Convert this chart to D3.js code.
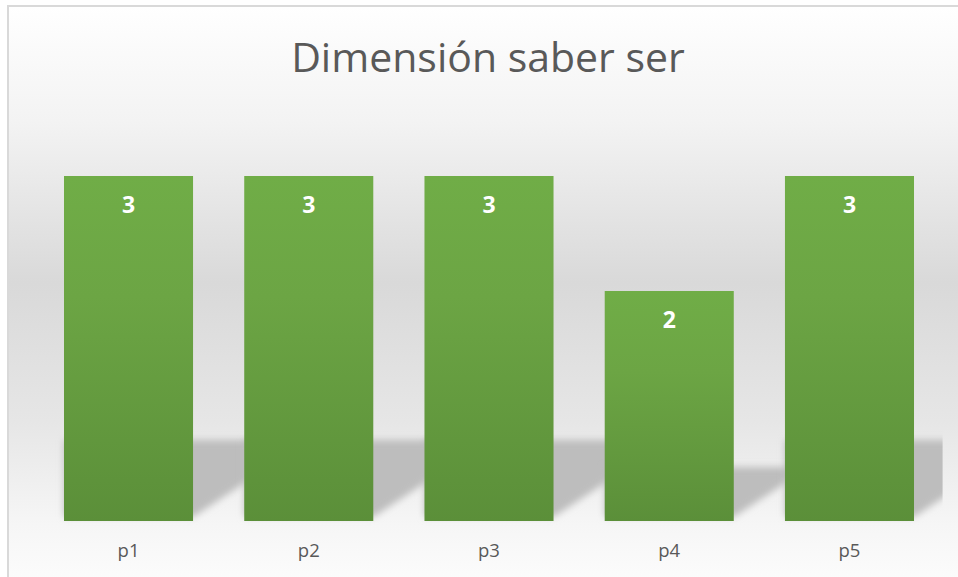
<!DOCTYPE html>
<html>
<head>
<meta charset="utf-8">
<script src="https://cdn.jsdelivr.net/npm/d3@7"></script>
<style>
  html, body { margin: 0; padding: 0; background: #ffffff; }
  svg { display: block; }
</style>
</head>
<body>
<svg id="chart" width="958" height="577"></svg>
<script>
const title = "Dimensión saber ser";
const categories = ["p1", "p2", "p3", "p4", "p5"];
const values = [3, 3, 3, 2, 3];
const yMax = 3;

const W = 958, H = 577;
const svg = d3.select("#chart");
const defs = svg.append("defs");

// background gradient
const bg = defs.append("linearGradient").attr("id", "bgGrad")
  .attr("x1", 0).attr("y1", 0).attr("x2", 0).attr("y2", 1);
[[0, "#ffffff"], [0.2, "#f3f3f3"], [0.48, "#d9d9d9"], [0.72, "#e6e6e6"], [0.9, "#f6f6f6"], [1, "#fcfcfc"]]
  .forEach(([o, c]) => bg.append("stop").attr("offset", o).attr("stop-color", c));

// bar gradient
const bgBar = defs.append("linearGradient").attr("id", "barGrad")
  .attr("x1", 0).attr("y1", 0).attr("x2", 0).attr("y2", 1);
[[0, "#70ad47"], [0.35, "#6ca544"], [1, "#5b8f39"]]
  .forEach(([o, c]) => bgBar.append("stop").attr("offset", o).attr("stop-color", c));

// shadow blur
defs.append("filter").attr("id", "blur").attr("x", "-20%").attr("y", "-20%").attr("width", "140%").attr("height", "140%")
  .append("feGaussianBlur").attr("stdDeviation", 3.5);

// chart area with border
svg.append("rect")
  .attr("x", 8).attr("y", 6).attr("width", W).attr("height", H)
  .attr("fill", "url(#bgGrad)")
  .attr("stroke", "#d9d9d9").attr("stroke-width", 2);

// scales
const x = d3.scaleBand().domain(categories).range([38.4, 939.6]).paddingInner(0.284).paddingOuter(0.142);
const y = d3.scaleLinear().domain([0, yMax]).range([521, 176]);

defs.append("clipPath").attr("id", "plotClip")
  .append("rect").attr("x", x.range()[0]).attr("y", 0)
  .attr("width", x.range()[1] - x.range()[0] + 3).attr("height", H);

// shadows
const data = categories.map((c, i) => ({ c, v: values[i] }));
const y0 = y(0);
svg.append("g").attr("clip-path", "url(#plotClip)")
  .selectAll("path").data(data).join("path")
  .attr("d", d => {
    const l = x(d.c), r = x(d.c) + x.bandwidth();
    const h = y0 - y(d.v);
    const top = y0 - 0.235 * h;
    const ext = 70;
    return `M${l},${top}L${r + ext},${top}L${r + ext},${y0 - 4 - 0.66 * ext}L${r},${y0 - 4}L${l},${y0 - 4}Z`;
  })
  .attr("fill", "#bdbdbd")
  .attr("filter", "url(#blur)");

// bars
svg.append("g").selectAll("rect").data(data).join("rect")
  .attr("x", d => x(d.c))
  .attr("y", d => y(d.v))
  .attr("width", x.bandwidth())
  .attr("height", d => y0 - y(d.v))
  .attr("fill", "url(#barGrad)");

// data labels
svg.append("g").selectAll("text").data(data).join("text")
  .attr("x", d => x(d.c) + x.bandwidth() / 2)
  .attr("y", d => y(d.v) + 37)
  .attr("text-anchor", "middle")
  .attr("font-family", "'Open Sans', sans-serif")
  .attr("font-weight", "bold")
  .attr("font-size", 23)
  .attr("fill", "#ffffff")
  .text(d => d.v);

// x axis
const xAxis = svg.append("g").attr("transform", `translate(0,${y0})`)
  .call(d3.axisBottom(x).tickSize(0).tickPadding(23));
xAxis.select(".domain").remove();
xAxis.selectAll("text")
  .attr("font-family", "'Open Sans', sans-serif")
  .attr("font-size", 18.5)
  .attr("fill", "#595959");

// title
svg.append("text")
  .attr("x", 488).attr("y", 72)
  .attr("text-anchor", "middle")
  .attr("font-family", "'Open Sans', sans-serif")
  .attr("font-size", 41)
  .attr("fill", "#595959")
  .text(title);
</script>
</body>
</html>
